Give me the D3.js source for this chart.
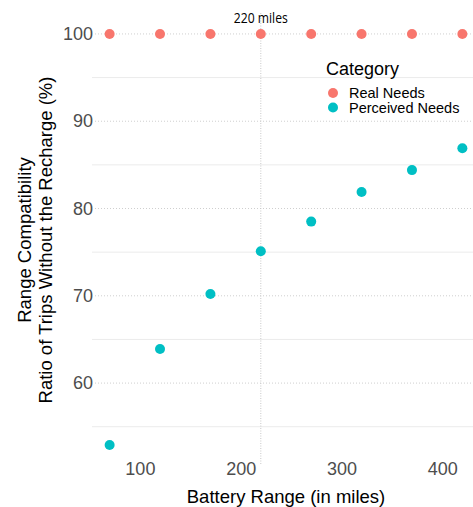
<!DOCTYPE html>
<html><head><meta charset="utf-8">
<script src="https://cdn.jsdelivr.net/npm/d3@7"></script>
<style>body{margin:0;background:#fff}svg{display:block}</style>
</head><body>
<svg id="c" width="473" height="507"></svg>
<script>
const batteryRange = [70, 120, 170, 220, 270, 320, 370, 420];
const realNeeds = [100, 100, 100, 100, 100, 100, 100, 100];
const perceivedNeeds = [52.9, 63.9, 70.2, 75.1, 78.5, 81.9, 84.4, 86.9];
const categories = ["Real Needs", "Perceived Needs"];
const colors = ["#F8766D", "#00BFC4"];
const xTicks = [100, 200, 300, 400];
const yTicks = [60, 70, 80, 90, 100];
const yMinor = [55, 65, 75, 85, 95];
const vlineValue = 220;
const vlineLabel = "220 miles";

const svg = d3.select("#c");
const font = "'Liberation Sans', Arial, sans-serif";
const x = d3.scaleLinear().domain([52.5, 437.5]).range([92, 480]);
const y = d3.scaleLinear().domain([50.5, 102.4]).range([466, 13]);
const color = d3.scaleOrdinal().domain(categories).range(colors);

// minor grid
svg.append("g").selectAll("line").data(yMinor).join("line")
  .attr("x1", 92).attr("x2", 473)
  .attr("y1", d => y(d)).attr("y2", d => y(d))
  .attr("stroke", "#ebebeb").attr("stroke-width", 1);
// major grid (dotted)
svg.append("g").selectAll("line").data(yTicks).join("line")
  .attr("x1", 95).attr("x2", 473)
  .attr("y1", d => y(d)).attr("y2", d => y(d))
  .attr("stroke", "#cfcfcf").attr("stroke-width", 1).attr("stroke-dasharray", "1,2");

// vline
svg.append("line")
  .attr("x1", x(vlineValue)).attr("x2", x(vlineValue))
  .attr("y1", 13).attr("y2", 465)
  .attr("stroke", "#c8c8c8").attr("stroke-width", 1).attr("stroke-dasharray", "1,1.5");
svg.append("text").attr("x", x(vlineValue)).attr("y", 23)
  .attr("text-anchor", "middle").attr("font-family", "'Open Sans', sans-serif")
  .attr("font-size", 14.5).attr("fill", "#000")
  .attr("textLength", 54).attr("lengthAdjust", "spacingAndGlyphs")
  .text(vlineLabel);

// axes
const yAxis = svg.append("g").attr("transform", "translate(95,0)")
  .call(d3.axisLeft(y).tickValues(yTicks).tickSize(0).tickPadding(2));
const xAxis = svg.append("g").attr("transform", "translate(0,462)")
  .call(d3.axisBottom(x).tickValues(xTicks).tickSize(0).tickPadding(0));
[yAxis, xAxis].forEach(g => {
  g.select(".domain").remove();
  g.selectAll("text").attr("font-family", font).attr("font-size", 18).attr("fill", "#4D4D4D");
});

// points
const series = [realNeeds, perceivedNeeds];
series.forEach((vals, i) => {
  svg.append("g").selectAll("circle").data(batteryRange).join("circle")
    .attr("cx", d => x(d)).attr("cy", (d, j) => y(vals[j]))
    .attr("r", 5).attr("fill", color(categories[i]));
});

// titles
svg.append("text").attr("x", 286).attr("y", 503).attr("text-anchor", "middle")
  .attr("font-family", font).attr("font-size", 18.5).attr("fill", "#000")
  .text("Battery Range (in miles)");
const yt = svg.append("text").attr("transform", "translate(0,240) rotate(-90)")
  .attr("text-anchor", "middle").attr("font-family", font).attr("font-size", 18.5).attr("fill", "#000");
yt.append("tspan").attr("x", 0).attr("y", 31).text("Range Compatibility");
yt.append("tspan").attr("x", 0).attr("y", 52).text("Ratio of Trips Without the Recharge (%)");

// legend
const lg = svg.append("g");
lg.append("text").attr("x", 326).attr("y", 75).attr("font-family", font)
  .attr("font-size", 18).attr("fill", "#000").text("Category");
categories.forEach((c, i) => {
  lg.append("circle").attr("cx", 333).attr("cy", 93 + i * 14.5).attr("r", 5).attr("fill", color(c));
  lg.append("text").attr("x", 349).attr("y", 93 + i * 14.5).attr("dy", "0.36em")
    .attr("font-family", font).attr("font-size", 14.5).attr("fill", "#000").text(c);
});
</script>
</body></html>
